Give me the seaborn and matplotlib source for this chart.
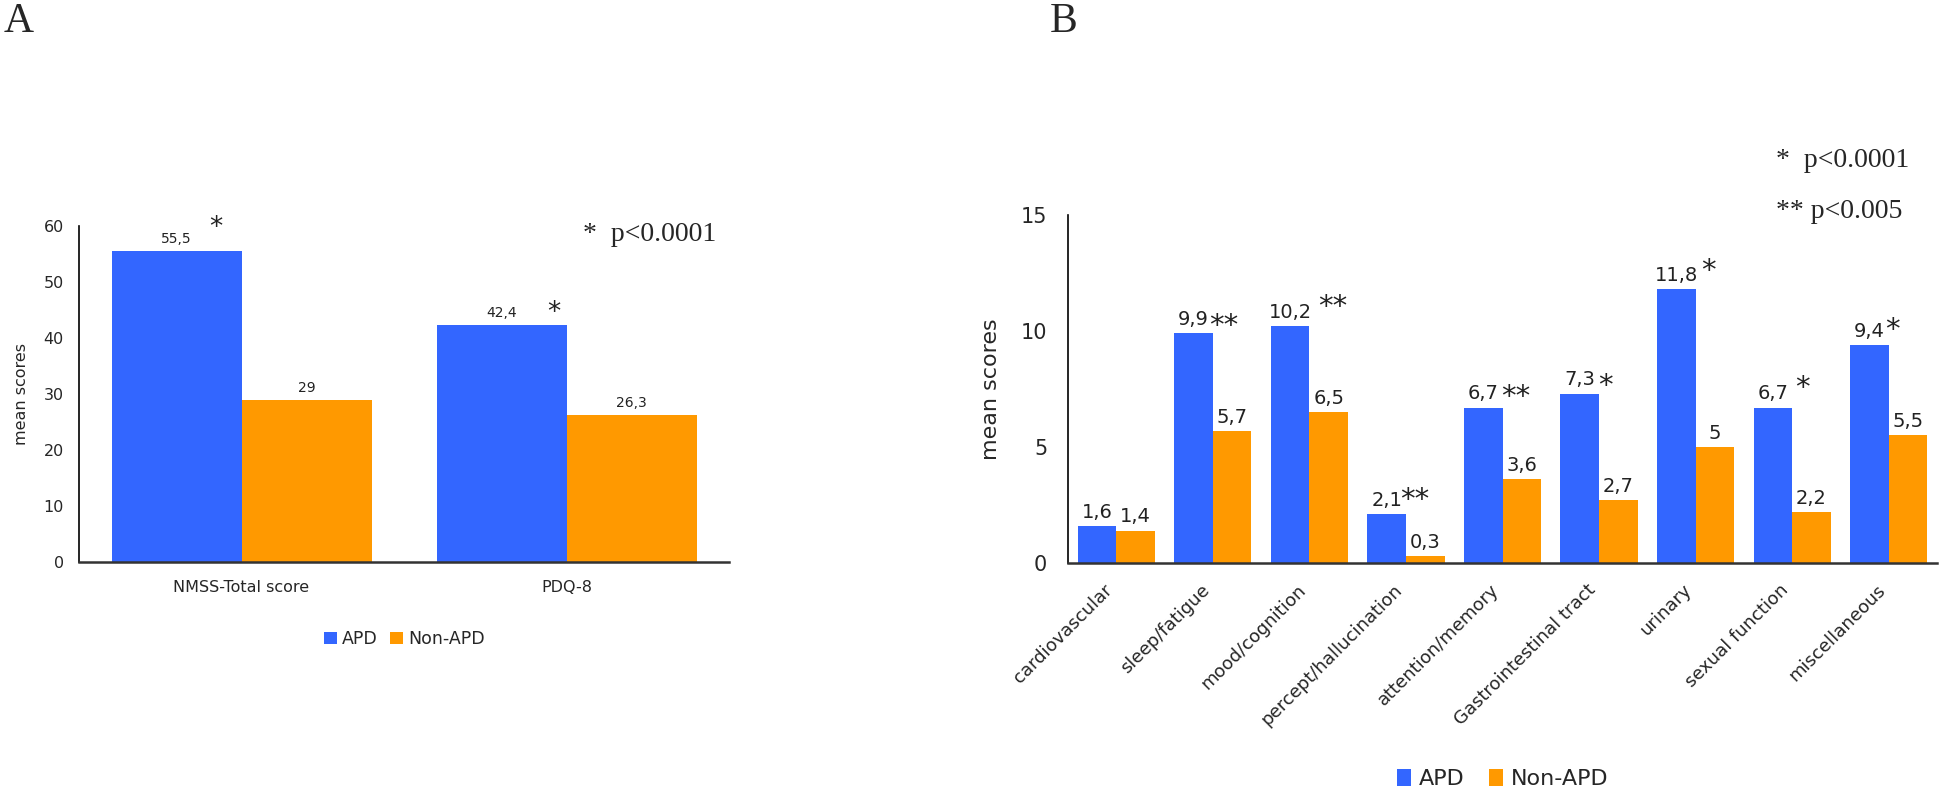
import numpy as np
import pandas as pd
import matplotlib
matplotlib.use('Agg')
import matplotlib.pyplot as plt
import seaborn as sns

# data
groups = ['APD', 'Non-APD']
colors = ['#3366FF', '#FF9900']

a_categories = ['NMSS-Total score', 'PDQ-8']
a_apd = [55.5, 42.4]
a_non = [29.0, 26.3]
a_stars = ['*', '*']

b_categories = ['cardiovascular', 'sleep/fatigue', 'mood/cognition', 'percept/hallucination',
                'attention/memory', 'Gastrointestinal tract', 'urinary', 'sexual function',
                'miscellaneous']
b_apd = [1.6, 9.9, 10.2, 2.1, 6.7, 7.3, 11.8, 6.7, 9.4]
b_non = [1.4, 5.7, 6.5, 0.3, 3.6, 2.7, 5.0, 2.2, 5.5]
b_stars = ['', '**', '**', '**', '**', '*', '*', '*', '*']

# star placement (px right of bar centre, px of glyph centre above bar top)
a_star_off = [(39, 33), (52, 21)]
b_star_off = [(0, 0), (30, 17), (43, 29), (28, 24), (33, 21), (26, 18), (32, 28), (30, 30), (23, 25)]

DPI = 100
PX = 72 / DPI


def long_df(cats, apd, non):
    return pd.DataFrame({
        'cat': list(cats) * 2,
        'score': list(apd) + list(non),
        'group': [groups[0]] * len(cats) + [groups[1]] * len(cats),
    })


def fmt(v):
    return f'{v:g}'.replace('.', ',')


def add_stars(ax, stars, offs, size):
    bars = ax.containers[0]
    for bar, s, (dx, dy) in zip(bars, stars, offs):
        if not s:
            continue
        x = bar.get_x() + bar.get_width() / 2
        ax.annotate(s, (x, bar.get_height()), xytext=(dx * PX, dy * PX - 0.62 * size),
                    textcoords='offset points', ha='center', va='baseline',
                    fontsize=size, color='#222222')


sns.set_style('white')
plt.rcParams['font.family'] = ['DejaVu Sans']
plt.rcParams['axes.edgecolor'] = 'black'

fig = plt.figure(figsize=(19.44, 7.91), dpi=DPI)
W, H = 1944, 791
axA = fig.add_axes([79 / W, 1 - 562 / H, 650 / W, 336 / H])
axB = fig.add_axes([1068 / W, 1 - 563 / H, 869 / W, 348 / H])

# ---- panel A
sns.barplot(data=long_df(a_categories, a_apd, a_non), x='cat', y='score', hue='group',
            palette=colors, saturation=1, width=0.8, linewidth=0, ax=axA)
axA.set_ylim(0, 60)
axA.set_yticks(range(0, 61, 10))
axA.set_xlabel('')
axA.set_ylabel('mean scores', fontsize=11.5, labelpad=10)
axA.tick_params(axis='y', length=0, pad=11, labelsize=11.5)
axA.tick_params(axis='x', length=0, pad=13, labelsize=11.5)
for cont, vals in zip(axA.containers, [a_apd, a_non]):
    axA.bar_label(cont, labels=[fmt(v) for v in vals], padding=3.5, fontsize=10, color='#222222')
add_stars(axA, a_stars, a_star_off, 19)
sns.move_legend(axA, 'center', bbox_to_anchor=(0.5, -0.229), ncol=2, frameon=False,
                title=None, fontsize=12.5, handlelength=0.75, handleheight=0.75,
                handletextpad=0.3, columnspacing=0.7)

# ---- panel B
sns.barplot(data=long_df(b_categories, b_apd, b_non), x='cat', y='score', hue='group',
            palette=colors, saturation=1, width=0.8, linewidth=0, ax=axB)
axB.set_ylim(0, 15)
axB.set_yticks([0, 5, 10, 15])
axB.set_xlabel('')
axB.set_ylabel('mean scores', fontsize=16, labelpad=14)
axB.tick_params(axis='y', length=0, pad=15, labelsize=15)
axB.tick_params(axis='x', length=0, pad=13, labelsize=13)
plt.setp(axB.get_xticklabels(), rotation=45, ha='right')
for cont, vals in zip(axB.containers, [b_apd, b_non]):
    axB.bar_label(cont, labels=[fmt(v) for v in vals], padding=3, fontsize=14, color='#222222')
add_stars(axB, b_stars, b_star_off, 21)
sns.move_legend(axB, 'center', bbox_to_anchor=(0.5, -0.621), ncol=2, frameon=False,
                title=None, fontsize=16, handlelength=0.63, handleheight=0.8,
                handletextpad=0.36, columnspacing=1.1)

for ax in (axA, axB):
    sns.despine(ax=ax)
    ax.spines['left'].set_linewidth(1.2)
    ax.spines['bottom'].set_linewidth(1.8)
    ax.spines['bottom'].set_color('#333333')

# panel letters and p-value notes
serif = ['Liberation Serif', 'DejaVu Serif']
fig.text(4 / W, 1 - 32 / H, 'A', fontsize=30, family=serif, va='baseline')
fig.text(1050 / W, 1 - 32 / H, 'B', fontsize=30, family=serif, va='baseline')
fig.text(583 / W, 1 - 241 / H, '*  p<0.0001', fontsize=20, family=serif, va='baseline')
fig.text(1776 / W, 1 - 167 / H, '*  p<0.0001', fontsize=20, family=serif, va='baseline')
fig.text(1776 / W, 1 - 218 / H, '** p<0.005', fontsize=20, family=serif, va='baseline')

fig.savefig('out.png', dpi=DPI)
